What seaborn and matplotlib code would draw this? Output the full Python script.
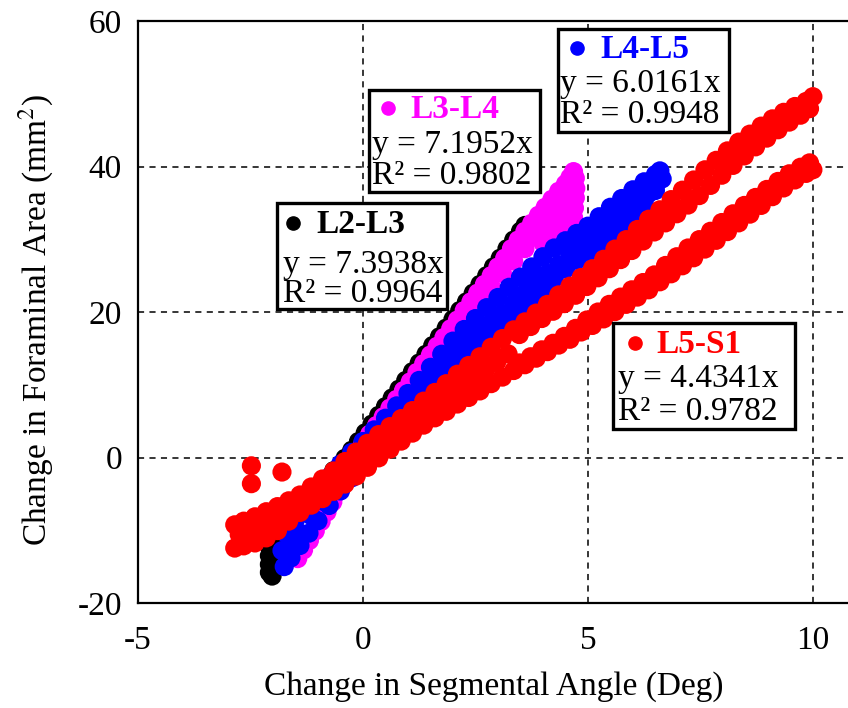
import matplotlib
matplotlib.use("Agg")
import matplotlib.pyplot as plt
import seaborn as sns
import pandas as pd
from matplotlib.patches import Rectangle
from matplotlib.lines import Line2D

# ---------------- data ----------------
levels = ["L2-L3", "L3-L4", "L4-L5", "L5-S1"]
colors = ["#000000", "#ff00ff", "#0000ff", "#ff0000"]
eq_text = ["y = 7.3938x", "y = 7.1952x", "y = 6.0161x", "y = 4.4341x"]
r2_text = ["R² = 0.9964", "R² = 0.9802", "R² = 0.9948", "R² = 0.9782"]
x_ticks = [-5, 0, 5, 10]
y_ticks = [-20, 0, 20, 40, 60]

l23_x = [-2.08, -2.02, -2.08, -1.98, -2.08, -1.98, -2.08, -1.98, -2.06, -1.96, -2.05,
         -1.9, -1.65, -1.4, -1.15, -0.9, -0.65,
         -0.4, -0.25, -0.1, 0.05, 0.2, 0.35, 0.5, 0.65, 0.8, 0.95, 1.1, 1.25, 1.4, 1.55,
         1.7, 1.85, 2.0, 2.15, 2.3, 2.45, 2.6, 2.75, 2.9, 3.05, 3.2, 3.35, 3.5, 3.6]
l23_y = [-15.8, -16.3, -14.7, -15.0, -13.5, -14.0, -12.2, -12.8, -11.0, -11.5, -10.0,
         -8.8, -7.6, -6.2, -4.8, -3.3, -1.8,
         -0.1, 1.0, 2.2, 3.4, 4.6, 5.8, 7.0, 8.2, 9.4, 10.6, 11.8, 13.0, 14.2, 15.4,
         16.6, 17.8, 19.0, 20.2, 21.4, 22.6, 23.8, 25.0, 26.2, 27.4, 28.7, 29.9, 31.1, 31.9]

l34_x = [-1.45, -1.32, -1.19, -1.06, -0.93, -0.8, -0.67, -0.54, -0.41, -0.28, -0.15, 0.0,
         -0.3, -0.15, 0.0, 0.15, 0.3, 0.45, 0.6, 0.75, 0.9, 1.05, 1.2, 1.35, 1.5, 1.65, 1.8,
         1.95, 2.1, 2.25, 2.4, 2.55, 2.7, 2.85, 3.0, 3.15, 3.3, 3.45, 3.6, 3.75, 3.9, 4.05,
         4.2, 4.35, 4.5, 4.6, 4.68,
         1.6, 1.85, 2.1, 2.35, 2.6, 2.85, 3.1, 3.35, 3.6, 3.85, 4.1, 4.35, 4.55, 4.68,
         3.9, 4.1, 4.3, 4.5, 4.62,
         4.0, 4.25, 4.5,
         4.72, 4.73, 4.72, 4.70, 4.68, 4.64]
l34_y = [-13.9, -12.7, -11.4, -10.1, -8.8, -7.5, -6.1, -4.7, -3.3, -1.9, -0.6, 0.9,
         -0.4, 0.8, 2.0, 3.2, 4.4, 5.6, 6.8, 8.0, 9.2, 10.4, 11.7, 12.9, 14.1, 15.3, 16.5,
         17.7, 18.9, 20.2, 21.4, 22.6, 23.8, 25.0, 26.2, 27.4, 28.7, 29.9, 31.1, 32.2, 33.3, 34.4,
         35.5, 36.6, 37.6, 38.5, 39.3,
         14.2, 16.2, 18.1, 20.0, 21.8, 23.5, 25.3, 27.0, 28.7, 30.3, 31.9, 33.4, 34.8, 36.0,
         31.7, 33.5, 34.8, 36.2, 37.3,
         29.5, 30.9, 32.1,
         38.4, 37.0, 35.7, 34.3, 33.0, 31.6]

l45_x = [-1.8, -1.7, -1.5, -1.25, -1.0, -0.75, -0.5, -0.25, 0.0, 0.25, 0.5, 0.75, 1.0, 1.25,
         1.5, 1.75, 2.0, 2.25, 2.5, 2.75, 3.0, 3.25, 3.5, 3.75, 4.0, 4.25, 4.5, 4.75, 5.0,
         5.25, 5.5, 5.75, 6.0, 6.25, 6.5, 6.6,
         -1.65, -1.4, -1.15, -0.9, -0.65, -0.4, -0.15, 0.1, 0.35, 0.6, 0.85, 1.1, 1.35, 1.6,
         1.85, 2.1, 2.35, 2.6, 2.85, 3.1, 3.35, 3.6, 3.85, 4.1, 4.35, 4.6, 4.85, 5.1, 5.35,
         5.6, 5.85, 6.1, 6.35, 6.55,
         -1.75, -1.6, -1.4, -1.2, -1.0, -0.75, -0.5, -0.25, 0.0, 0.25, 0.5, 0.75, 1.0, 1.25,
         1.5, 1.75, 2.0, 2.25, 2.5, 2.75, 3.0, 3.25, 3.5, 3.75, 4.0, 4.25, 4.5, 4.75, 5.0,
         5.25, 5.5, 5.75, 6.0, 6.25, 6.5, 6.65]
l45_y = [-12.8, -10.5, -8.6, -6.6, -4.6, -2.7, -0.9, 0.7, 2.2, 3.8, 5.4, 7.1, 8.8, 10.6,
         12.4, 14.2, 16.0, 17.6, 19.1, 20.6, 22.0, 23.4, 24.8, 26.2, 27.6, 28.8, 29.8, 30.8, 31.8,
         33.1, 34.4, 35.6, 36.8, 37.9, 38.9, 39.4,
         -12.5, -10.4, -8.0, -6.0, -4.0, -2.2, -0.4, 1.2, 2.8, 4.4, 6.0, 7.6, 9.2, 10.9,
         12.5, 14.1, 15.6, 17.0, 18.4, 19.8, 21.2, 22.6, 24.0, 25.3, 26.5, 27.7, 28.9, 30.1, 31.4,
         32.6, 33.8, 35.0, 36.3, 37.9,
         -15.0, -13.8, -12.1, -10.4, -8.7, -6.6, -4.6, -2.8, -1.0, 0.6, 2.2, 3.7, 5.2, 6.7,
         8.2, 9.7, 11.2, 12.7, 14.2, 15.7, 17.2, 18.7, 20.2, 21.7, 23.2, 24.6, 25.9, 27.1, 28.2,
         29.5, 30.8, 32.1, 33.5, 35.0, 36.7, 38.3]

l5s1_x = [-2.85, -2.65, -2.4, -2.15, -1.9, -1.65, -1.4, -1.15, -0.9, -0.65, -0.4, -0.15, 0.1,
          0.35, 0.6, 0.85, 1.1, 1.35, 1.6, 1.85, 2.1, 2.35, 2.6, 2.85, 3.1, 3.35, 3.6, 3.85,
          4.1, 4.35, 4.6, 4.85, 5.1, 5.35, 5.6, 5.85, 6.1, 6.35, 6.6, 6.85, 7.1, 7.35, 7.6,
          7.85, 8.1, 8.35, 8.6, 8.85, 9.1, 9.35, 9.6, 9.85, 10.0,
          -2.75, -2.525, -2.275, -2.025, -1.775, -1.525, -1.275, -1.025, -0.775, -0.525, -0.275,
          -0.025, 0.225, 0.475, 0.725, 0.975, 1.225, 1.475, 1.725, 1.975, 2.225, 2.475, 2.725,
          2.975, 3.225,
          -2.85, -2.65, -2.4, -2.15, -1.9, -1.65, -1.4, -1.15, -0.9, -0.65, -0.4, -0.15, 0.1,
          0.35, 0.6, 0.85, 1.1, 1.35, 1.6, 1.85, 2.1, 2.35, 2.6, 2.85, 3.1, 3.35, 3.6, 3.85,
          4.1, 4.35, 4.6, 4.85, 5.1, 5.35, 5.6, 5.85, 6.1, 6.35, 6.6, 6.85, 7.1, 7.35, 7.6,
          7.85, 8.1, 8.35, 8.6, 8.85, 9.1, 9.35, 9.6, 9.85, 10.0,
          3.475, 3.725, 3.975, 4.225, 4.475, 4.725, 4.975, 5.225, 5.475, 5.725, 5.975, 6.225,
          6.475, 6.725, 6.975, 7.225, 7.475, 7.725, 7.975, 8.225, 8.475, 8.725, 8.975, 9.225,
          9.475, 9.725, 9.925,
          3.475, 3.725, 3.975, 4.225, 4.475, 4.725, 4.975, 5.225, 5.475, 5.725, 5.975, 6.225,
          6.475, 6.725, 6.975, 7.225, 7.475, 7.725, 7.975, 8.225, 8.475, 8.725, 8.975, 9.225,
          9.475, 9.725, 9.925,
          -2.48, -2.48, -1.80]
l5s1_y = [-9.25, -8.75, -8.15, -7.45, -6.75, -5.95, -5.15, -4.05, -2.95, -1.85, -0.55, 0.75, 1.95,
          3.15, 4.25, 5.35, 6.45, 7.75, 8.95, 10.15, 11.45, 12.65, 13.85, 15.15, 16.35, 17.55, 18.65,
          19.85, 21.05, 22.35, 23.55, 24.75, 25.95, 27.25, 28.65, 29.95, 31.35, 32.75, 34.05, 35.45,
          36.75, 38.15, 39.55, 40.85, 42.15, 43.35, 44.45, 45.55, 46.55, 47.45, 48.25, 48.95, 49.6,
          -10.6, -10.15, -9.6, -8.85, -7.9, -6.9, -5.85, -4.8, -3.75, -2.65, -1.5,
          -0.3, 0.9, 2.1, 3.25, 4.35, 5.5, 6.65, 7.7, 8.8, 9.95, 11.0, 12.05,
          13.15, 14.25,
          -12.45, -12.15, -11.75, -11.05, -10.05, -8.75, -7.55, -6.55, -5.65, -4.65, -3.65, -2.55,
          -1.35, -0.05, 1.15, 2.25, 3.35, 4.45, 5.45, 6.35, 7.35, 8.25, 9.15, 10.15, 11.05, 11.95,
          12.75, 13.65, 14.55, 15.45, 16.25, 17.25, 18.15, 19.05, 20.05, 21.05, 22.05, 23.05, 24.15,
          25.25, 26.35, 27.45, 28.65, 29.85, 31.05, 32.25, 33.45, 34.65, 35.85, 37.05, 38.15, 39.05,
          39.55,
          16.9, 18.0, 19.1, 20.1, 21.15, 22.3, 23.5, 24.7, 25.95, 27.2, 28.45, 29.75,
          31.0, 32.25, 33.5, 34.7, 36.0, 37.4, 38.8, 40.15, 41.45, 42.7, 43.9, 45.05,
          46.1, 47.05, 47.95,
          13.0, 13.85, 14.8, 15.7, 16.65, 17.75, 18.9, 20.0, 21.05, 22.05, 23.05, 24.05,
          25.1, 26.4, 27.6, 28.8, 29.95, 31.1, 32.3, 33.5, 34.65, 35.75, 36.85, 37.95,
          39.0, 39.9, 40.5,
          -1.14, -3.6, -2.0]

series_x = [l23_x, l34_x, l45_x, l5s1_x]
series_y = [l23_y, l34_y, l45_y, l5s1_y]

frames = []
for lev, xs, ys in zip(levels, series_x, series_y):
    frames.append(pd.DataFrame({"angle": xs, "area": ys, "level": lev}))
df = pd.concat(frames, ignore_index=True)

# ---------------- style ----------------
plt.rcParams["font.family"] = ["Liberation Serif", "DejaVu Sans"]
plt.rcParams["mathtext.fontset"] = "stix"
plt.rcParams["axes.unicode_minus"] = False

W, H = 848, 708
fig = plt.figure(figsize=(W / 100, H / 100), dpi=100)
ax_l, ax_r, ax_t, ax_b = 138, 848, 21, 603
ax = fig.add_axes([ax_l / W, (H - ax_b) / H, (ax_r - ax_l) / W, (ax_b - ax_t) / H])

sns.scatterplot(data=df, x="angle", y="area", hue="level", hue_order=levels,
                palette=colors, s=190, linewidth=0, edgecolor="none",
                legend=False, ax=ax, zorder=3)

ax.set_xlim(-5, 10.78)
ax.set_ylim(-20, 60)
ax.set_xticks(x_ticks)
ax.set_yticks(y_ticks)
ax.grid(True, color="black", linestyle=(0, (4, 3.5)), linewidth=1.1)
ax.set_axisbelow(True)
for side in ["left", "bottom", "top"]:
    ax.spines[side].set_linewidth(1.6)
    ax.spines[side].set_color("black")
ax.spines["right"].set_visible(False)
ax.tick_params(axis="both", length=0, labelsize=24)
ax.tick_params(axis="x", pad=16)
ax.tick_params(axis="y", pad=11.5)

ax.set_xlabel("Change in Segmental Angle (Deg)", fontsize=24)
ax.set_ylabel("Change in Foraminal Area (mm$^{2}$)", fontsize=24)
ax.xaxis.set_label_coords((494 - ax_l) / (ax_r - ax_l), -0.117)
ax.yaxis.set_label_coords((56 - ax_l) / (ax_r - ax_l), (ax_b - 320) / (ax_b - ax_t))

# ---------------- label boxes ----------------
def fx(px):
    return px / W


def fy(py):
    return 1 - py / H


boxes = [
    # rect (x0, y0, x1, y1), bullet x, title left, title baseline, eq left, eq baseline, r2 baseline
    ((276.5, 203.2, 446.8, 309.2), 293, 316.7, 233.3, 282.7, 273.3, 301.7),
    ((368.8, 89.8, 540.2, 191.8), 388.3, 410.0, 118.3, 371.7, 152.7, 184.0),
    ((557.5, 28.8, 728.5, 131.8), 576.7, 600.0, 58.3, 560.0, 91.7, 123.3),
    ((613.2, 323.2, 795.2, 428.5), 635.0, 656.7, 353.0, 618.3, 386.7, 420.0),
]
for lev, col, eq, r2, spec in zip(levels, colors, eq_text, r2_text, boxes):
    (x0, y0, x1, y1), bx, tx, tb, ex, eb, rb = spec
    fig.add_artist(Rectangle((fx(x0), fy(y1)), (x1 - x0) / W, (y1 - y0) / H,
                             transform=fig.transFigure, facecolor="white",
                             edgecolor="black", linewidth=2.4, zorder=10))
    fig.add_artist(Line2D([fx(bx)], [fy(tb - 10)], marker="o", markersize=9.5,
                          color=col, linestyle="none", transform=fig.transFigure, zorder=11))
    fig.text(fx(tx), fy(tb), lev, color=col, fontsize=24, fontweight="bold",
             ha="left", va="baseline", zorder=11)
    fig.text(fx(ex), fy(eb), eq, color="black", fontsize=24,
             ha="left", va="baseline", zorder=11)
    fig.text(fx(ex), fy(rb), r2, color="black", fontsize=24,
             ha="left", va="baseline", zorder=11)

fig.savefig("out.png", dpi=100)
